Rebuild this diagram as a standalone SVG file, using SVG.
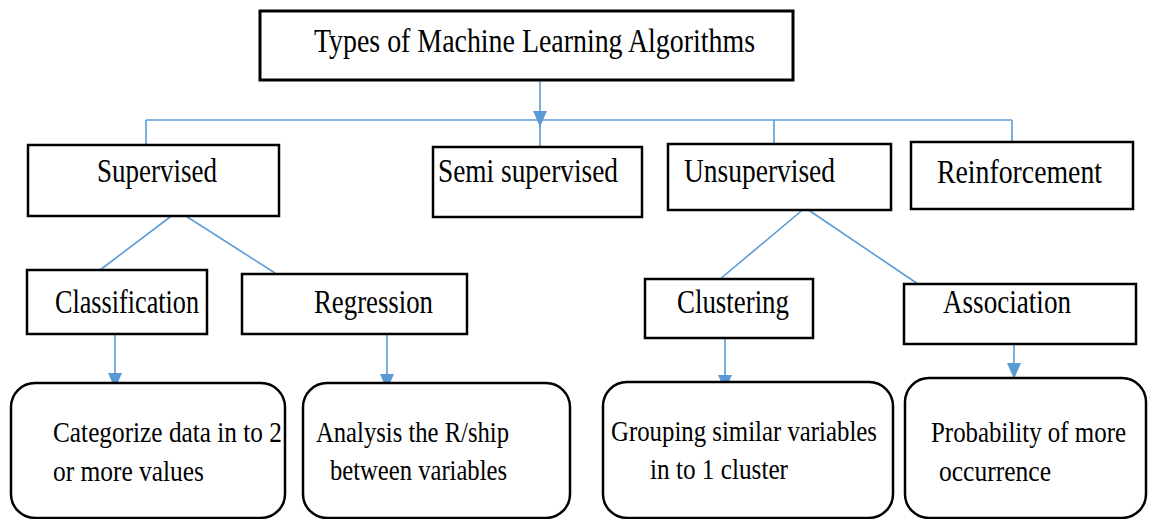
<svg xmlns="http://www.w3.org/2000/svg" width="1149" height="519" viewBox="0 0 1149 519">
<style>
.box{fill:#fff;stroke:#000;stroke-width:2.5}
.title{fill:#fff;stroke:#000;stroke-width:3}
.rbox{fill:#fff;stroke:#000;stroke-width:2.5}
.lbl{font-family:"Liberation Serif","Times New Roman",serif;font-size:33px;fill:#000}
.desc{font-family:"Liberation Serif","Times New Roman",serif;font-size:30px;fill:#000}
.ttl{font-family:"Liberation Serif","Times New Roman",serif;font-size:34px;fill:#000}
.con{stroke:#5B9BD5;stroke-width:1.6;fill:none}
</style>
<defs>
<marker id="ah" viewBox="0 0 16 14" refX="16" refY="7" markerWidth="16" markerHeight="14" markerUnits="userSpaceOnUse" orient="auto">
<path d="M0,0 L16,7 L0,14 z" fill="#5B9BD5"/>
</marker>
</defs>
<rect x="0" y="0" width="1149" height="519" fill="#fff"/>
<g id="connectors">
<line class="con" x1="540" y1="80" x2="540" y2="127" marker-end="url(#ah)"/>
<line class="con" x1="146" y1="120" x2="1012" y2="120"/>
<line class="con" x1="146" y1="120" x2="146" y2="145"/>
<line class="con" x1="540" y1="120" x2="540" y2="147"/>
<line class="con" x1="774" y1="120" x2="774" y2="144"/>
<line class="con" x1="1012" y1="120" x2="1012" y2="142"/>
<line class="con" x1="178" y1="211" x2="96" y2="273"/>
<line class="con" x1="178" y1="211" x2="275" y2="273"/>
<line class="con" x1="806" y1="207" x2="719" y2="280"/>
<line class="con" x1="807" y1="209" x2="918" y2="284"/>
<line class="con" x1="115" y1="334" x2="115" y2="389" marker-end="url(#ah)"/>
<line class="con" x1="387" y1="334" x2="387" y2="390" marker-end="url(#ah)"/>
<line class="con" x1="725" y1="338" x2="725" y2="391" marker-end="url(#ah)"/>
<line class="con" x1="1014" y1="344" x2="1014" y2="379" marker-end="url(#ah)"/>
</g>
<g id="root">
<rect class="title" x="260" y="11" width="533" height="69"/>
<text class="ttl" x="314" y="52" textLength="441" lengthAdjust="spacingAndGlyphs">Types of Machine Learning Algorithms</text>
</g>
<g id="supervised">
<rect class="box" x="28" y="145" width="251" height="71"/>
<text class="lbl" x="97" y="182" textLength="120" lengthAdjust="spacingAndGlyphs">Supervised</text>
</g>
<g id="semi">
<rect class="box" x="433" y="147" width="209" height="70"/>
<text class="lbl" x="438" y="182" textLength="180" lengthAdjust="spacingAndGlyphs">Semi supervised</text>
</g>
<g id="unsupervised">
<rect class="box" x="668" y="144" width="223" height="66"/>
<text class="lbl" x="684" y="182" textLength="151" lengthAdjust="spacingAndGlyphs">Unsupervised</text>
</g>
<g id="reinforcement">
<rect class="box" x="911" y="142" width="222" height="67"/>
<text class="lbl" x="937" y="183" textLength="165" lengthAdjust="spacingAndGlyphs">Reinforcement</text>
</g>
<g id="classification">
<rect class="box" x="27" y="270" width="180" height="64"/>
<text class="lbl" x="55" y="313" textLength="144" lengthAdjust="spacingAndGlyphs">Classification</text>
</g>
<g id="regression">
<rect class="box" x="242" y="274" width="225" height="60"/>
<text class="lbl" x="314" y="313" textLength="119" lengthAdjust="spacingAndGlyphs">Regression</text>
</g>
<g id="clustering">
<rect class="box" x="645" y="279" width="168" height="59"/>
<text class="lbl" x="677" y="313" textLength="112" lengthAdjust="spacingAndGlyphs">Clustering</text>
</g>
<g id="association">
<rect class="box" x="904" y="284" width="232" height="60"/>
<text class="lbl" x="943" y="313" textLength="128" lengthAdjust="spacingAndGlyphs">Association</text>
</g>
<g id="classification-desc">
<rect class="rbox" x="11" y="383" width="274" height="135" rx="24" ry="24"/>
<text class="desc" x="53" y="442" textLength="229" lengthAdjust="spacingAndGlyphs">Categorize data in to 2</text>
<text class="desc" x="53" y="481" textLength="151" lengthAdjust="spacingAndGlyphs">or more values</text>
</g>
<g id="regression-desc">
<rect class="rbox" x="303" y="383" width="267" height="135" rx="24" ry="24"/>
<text class="desc" x="316" y="442" textLength="193" lengthAdjust="spacingAndGlyphs">Analysis the R/ship</text>
<text class="desc" x="330" y="480" textLength="177" lengthAdjust="spacingAndGlyphs">between variables</text>
</g>
<g id="clustering-desc">
<rect class="rbox" x="603" y="382" width="290" height="136" rx="24" ry="24"/>
<text class="desc" x="611" y="441" textLength="266" lengthAdjust="spacingAndGlyphs">Grouping similar variables</text>
<text class="desc" x="650" y="479" textLength="138" lengthAdjust="spacingAndGlyphs">in to 1 cluster</text>
</g>
<g id="association-desc">
<rect class="rbox" x="905" y="378" width="241" height="140" rx="24" ry="24"/>
<text class="desc" x="931" y="442" textLength="195" lengthAdjust="spacingAndGlyphs">Probability of more</text>
<text class="desc" x="939" y="481" textLength="112" lengthAdjust="spacingAndGlyphs">occurrence</text>
</g>
</svg>
